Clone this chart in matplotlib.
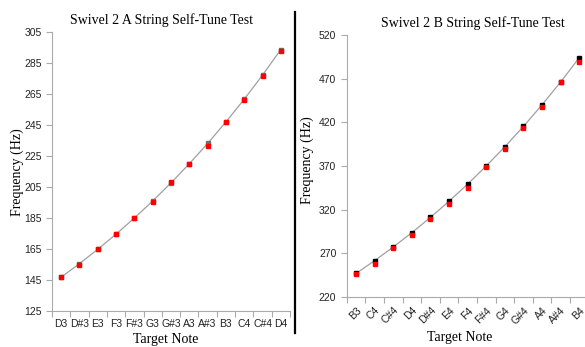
import matplotlib
matplotlib.use('Agg')
import matplotlib.pyplot as plt
import numpy as np
from matplotlib.lines import Line2D

# ---------------- dados ----------------
notas_a = ['D3', 'D#3', 'E3', 'F3', 'F#3', 'G3', 'G#3', 'A3', 'A#3', 'B3', 'C4', 'C#4', 'D4']
alvo_a = [146.83, 155.56, 164.81, 174.61, 185.00, 196.00, 207.65, 220.00, 233.08, 246.94, 261.63, 277.18, 293.66]
medido_a = [146.8, 154.9, 164.8, 174.4, 185.0, 195.5, 208.0, 219.8, 231.5, 246.9, 260.9, 276.3, 292.6]
erro_a = [0.6, 0.8, 0.5, 0.8, 1.2, 1.0, 0.9, 1.0, 1.0, 0.7, 0.8, 0.9, 0.7]

notas_b = ['B3', 'C4', 'C#4', 'D4', 'D#4', 'E4', 'F4', 'F#4', 'G4', 'G#4', 'A4', 'A#4', 'B4']
alvo_b = [246.94, 261.63, 277.18, 293.66, 311.13, 329.63, 349.23, 369.99, 392.00, 415.30, 440.00, 466.16, 493.88]
medido_b = [246.0, 257.5, 275.8, 290.6, 309.0, 326.5, 345.2, 368.9, 389.1, 413.2, 437.2, 465.8, 489.4]
erro_b = [0.8, 1.5, 1.2, 1.0, 1.0, 1.5, 1.5, 1.0, 1.2, 1.2, 1.2, 0.8, 1.2]

plt.rcParams['font.family'] = ['Liberation Sans', 'DejaVu Sans']

W, H = 585, 347
fig = plt.figure(figsize=(W / 100, H / 100), dpi=100)

def painel(ax, notas, alvo, medido, erro, cor_alvo, titulo, yt, rot):
    x = np.arange(len(notas))
    ax.plot(x, alvo, color='#a0a0a0', lw=0.9, zorder=1)
    ax.plot(x, alvo, ls='none', marker='s', ms=3.2, color=cor_alvo, zorder=2)
    ax.errorbar(x, medido, yerr=erro, fmt='none', ecolor='#222222', elinewidth=0.8, zorder=3)
    ax.plot(x, medido, ls='none', marker='s', ms=3.4, color='#ff0000', mec='#ff0000', zorder=4)
    ax.set_xlim(-0.5, len(notas) - 0.5)
    ax.set_ylim(yt[0], yt[-1])
    ax.set_yticks(yt)
    ax.set_xticks(np.arange(len(notas) + 1) - 0.5, minor=False)
    ax.set_xticklabels([])
    ax.set_xticks(x, minor=True)
    if rot:
        ax.set_xticklabels(notas, minor=True, rotation=45, ha='right', va='top',
                           rotation_mode='anchor')
    else:
        ax.set_xticklabels(notas, minor=True)
    ax.tick_params(axis='x', which='minor', length=0, labelsize=7.5, colors='#222222', pad=6)
    ax.tick_params(axis='x', which='major', length=4, color='#aaaaaa')
    ax.tick_params(axis='y', length=4, color='#aaaaaa', labelsize=7.5, labelcolor='#222222')
    for s in ['top', 'right']:
        ax.spines[s].set_visible(False)
    for s in ['left', 'bottom']:
        ax.spines[s].set_color('#aaaaaa')
    ax.set_title(titulo, family='Liberation Serif', fontsize=10, pad=6)

ax1 = fig.add_axes([0.0889, 0.1037, 0.4068, 0.8041])
painel(ax1, notas_a, alvo_a, medido_a, erro_a, '#707070',
       'Swivel 2 A String Self-Tune Test', list(range(125, 306, 20)), False)
ax1.title.set_position((0.46, 1.0))

ax2 = fig.add_axes([0.5927, 0.1441, 0.4133, 0.755])
painel(ax2, notas_b, alvo_b, medido_b, erro_b, '#000000',
       'Swivel 2 B String Self-Tune Test', list(range(220, 521, 50)), True)
ax2.title.set_position((0.52, 1.0))

# rotulos dos eixos
rot_kw = dict(family='Liberation Serif', fontsize=10, ha='center', va='center')
fig.text(17 / W, 1 - 172 / H, 'Frequency (Hz)', rotation=90, **rot_kw)
fig.text(307 / W, 1 - 160 / H, 'Frequency (Hz)', rotation=90, **rot_kw)
fig.text(166 / W, 1 - 339 / H, 'Target Note', **rot_kw)
fig.text(460 / W, 1 - 338 / H, 'Target Note', **rot_kw)

# linha divisoria
fig.add_artist(Line2D([295 / W, 295 / W], [1 - 12 / H, 1 - 333 / H],
                      color='black', lw=1.6, transform=fig.transFigure))

fig.savefig('out.png', dpi=100)
